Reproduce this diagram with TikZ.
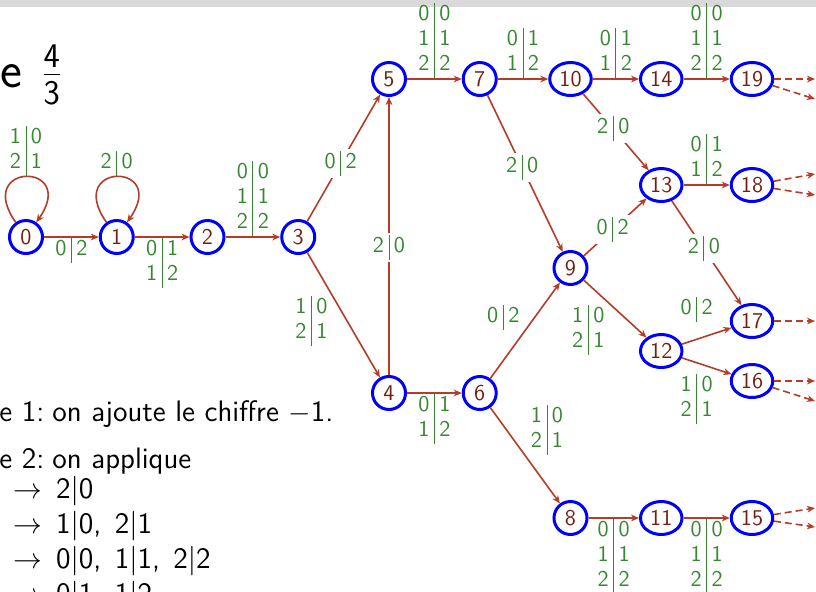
\documentclass[tikz,border=0pt]{standalone}
\usepackage{tikz}
\usetikzlibrary{shapes.geometric, arrows.meta, positioning}

\definecolor{numcol}{RGB}{115,32,18}
\definecolor{arccol}{RGB}{180,60,40}
\definecolor{labcol}{RGB}{55,135,50}

\newcommand{\paires}[1]{{\setlength{\tabcolsep}{2.5pt}\begin{tabular}{c|c}#1\end{tabular}}}

\begin{document}
\begin{tikzpicture}[x=0.5pt, y=-0.5pt, node distance=45.375pt, font=\sffamily\fontsize{11.3}{12.5}\selectfont]
\tikzstyle{etat} = [ellipse, draw=blue, line width=1.5pt, text=numcol, minimum width=16.5pt, minimum height=16.5pt, inner sep=1.8pt]
\tikzstyle{fleche} = [draw=arccol, line width=0.8pt, -{Stealth[length=4pt,width=3.4pt]}]
\tikzstyle{suite} = [fleche, dash pattern=on 3.5pt off 2pt]
\tikzstyle{etiq} = [text=labcol, inner sep=0pt]
\tikzstyle{surligne} = [etiq, fill=white, inner sep=1pt, pos=0.46]
\tikzstyle{texte} = [anchor=base west, inner sep=0pt, font=\sffamily\fontsize{14.8}{18}\selectfont]

\useasboundingbox (0,0) rectangle (816,591);
\clip (0,0) rectangle (816,591);
\fill[gray!30] (0,0) rectangle (816,7);

% texte de la diapo
\node (titre) [texte, font=\sffamily\fontsize{26}{30}\selectfont] at (-19,87) {se\hspace{1.5pt} $\frac{\mathsf{4}}{\mathsf{3}}$};
\node (etape1) [texte] at (-1,421) {e 1:\hspace{4pt}on ajoute le chiffre $-$1.};
\node (etape2) [texte] at (-1,468) {e 2:\hspace{4pt}on applique};
\node (regle1) [texte] at (13,498) {$\rightarrow$\hspace{7pt}2|0};
\node (regle2) [texte] at (13,533) {$\rightarrow$\hspace{7pt}1|0,\hspace{0.45em}2|1};
\node (regle3) [texte] at (13,568) {$\rightarrow$\hspace{7pt}0|0,\hspace{0.45em}1|1,\hspace{0.45em}2|2};
\node (regle4) [texte] at (13,603) {$\rightarrow$\hspace{7pt}0|1,\hspace{0.45em}1|2};

% etats
\node (q0) [etat] at (26,237) {0};
\node (q1) [etat, right of=q0] {1};
\node (q2) [etat, right of=q1] {2};
\node (q3) [etat, right of=q2] {3};
\node (q5) [etat, right of=q3, yshift=79pt] {5};
\node (q4) [etat, right of=q3, yshift=-78pt] {4};
\node (q7) [etat, right of=q5] {7};
\node (q6) [etat, right of=q4] {6};
\node (q10) [etat, right of=q7] {10};
\node (q14) [etat, right of=q10] {14};
\node (q19) [etat, right of=q14] {19};
\node (q9) [etat, right of=q6, yshift=62.5pt] {9};
\node (q8) [etat, right of=q6, yshift=-62.5pt] {8};
\node (q11) [etat, right of=q8] {11};
\node (q15) [etat, right of=q11] {15};
\node (q13) [etat, right of=q9, yshift=41.5pt] {13};
\node (q12) [etat, right of=q9, yshift=-41.5pt] {12};
\node (q18) [etat, right of=q13] {18};
\node (q17) [etat, right of=q12, yshift=15pt] {17};
\node (q16) [etat, right of=q12, yshift=-15pt] {16};

% sorties
\coordinate (s19a) at (815,79);
\coordinate (s19b) at (815,99);
\coordinate (s18a) at (815,174);
\coordinate (s18b) at (815,195);
\coordinate (s17) at (815,321);
\coordinate (s16a) at (815,381);
\coordinate (s16b) at (815,401);
\coordinate (s15a) at (815,508);
\coordinate (s15b) at (815,527);

% transitions
\draw[fleche] (q0) to[out=125,in=55,distance=37pt] node[etiq,above]{\paires{1&0\\2&1}} (q0);
\draw[fleche] (q1) to[out=125,in=55,distance=37pt] node[etiq,above]{\paires{2&0}} (q1);
\draw[fleche] (q0) -- node[etiq,below]{\paires{0&2}} (q1);
\draw[fleche] (q1) -- node[etiq,below]{\paires{0&1\\1&2}} (q2);
\draw[fleche] (q2) -- node[etiq,above]{\paires{0&0\\1&1\\2&2}} (q3);
\draw[fleche] (q3) -- node[surligne]{\paires{0&2}} (q5);
\draw[fleche] (q3) -- node[etiq,left=7pt,pos=0.55]{\paires{1&0\\2&1}} (q4);
\draw[fleche] (q4) -- node[surligne]{\paires{2&0}} (q5);
\draw[fleche] (q5) -- node[etiq,above]{\paires{0&0\\1&1\\2&2}} (q7);
\draw[fleche] (q4) -- node[etiq,below]{\paires{0&1\\1&2}} (q6);
\draw[fleche] (q7) -- node[etiq,above]{\paires{0&1\\1&2}} (q10);
\draw[fleche] (q7) -- node[surligne]{\paires{2&0}} (q9);
\draw[fleche] (q6) -- node[etiq,above left]{\paires{0&2}} (q9);
\draw[fleche] (q6) -- node[etiq,above right]{\paires{1&0\\2&1}} (q8);
\draw[fleche] (q10) -- node[etiq,above]{\paires{0&1\\1&2}} (q14);
\draw[fleche] (q10) -- node[surligne]{\paires{2&0}} (q13);
\draw[fleche] (q14) -- node[etiq,above]{\paires{0&0\\1&1\\2&2}} (q19);
\draw[fleche] (q9) -- node[surligne]{\paires{0&2}} (q13);
\draw[fleche] (q9) -- node[etiq,below left,pos=0.42]{\paires{1&0\\2&1}} (q12);
\draw[fleche] (q13) -- node[etiq,above]{\paires{0&1\\1&2}} (q18);
\draw[fleche] (q13) -- node[surligne]{\paires{2&0}} (q17);
\draw[fleche] (q12) -- node[etiq,above=8pt,pos=0.3]{\paires{0&2}} (q17);
\draw[fleche] (q12) -- node[etiq,below=5pt,pos=0.3]{\paires{1&0\\2&1}} (q16);
\draw[fleche] (q8) -- node[etiq,below]{\paires{0&0\\1&1\\2&2}} (q11);
\draw[fleche] (q11) -- node[etiq,below]{\paires{0&0\\1&1\\2&2}} (q15);

% suites en pointilles
\draw[suite] (q19) -- (s19a);
\draw[suite] (q19) -- (s19b);
\draw[suite] (q18) -- (s18a);
\draw[suite] (q18) -- (s18b);
\draw[suite] (q17) -- (s17);
\draw[suite] (q16) -- (s16a);
\draw[suite] (q16) -- (s16b);
\draw[suite] (q15) -- (s15a);
\draw[suite] (q15) -- (s15b);
\end{tikzpicture}
\end{document}
